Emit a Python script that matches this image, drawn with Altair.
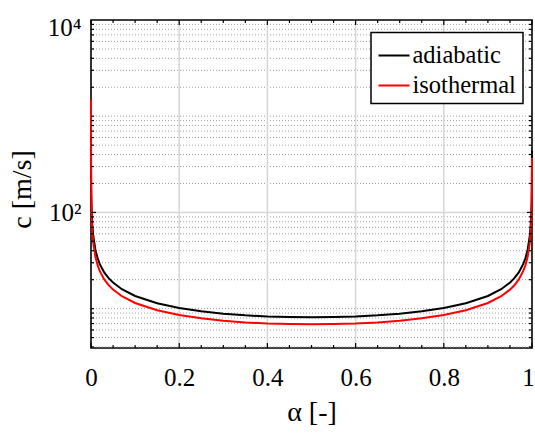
import altair as alt
import pandas as pd

# ---- data ----
alpha = [0, 0.0001, 0.0003, 0.0005, 0.001, 0.002, 0.003, 0.005, 0.01, 0.015,
         0.02, 0.03, 0.04, 0.05, 0.07, 0.1, 0.15, 0.2, 0.25, 0.3,
         0.35, 0.4, 0.45, 0.5, 0.55, 0.6, 0.65, 0.7, 0.75, 0.8,
         0.85, 0.9, 0.93, 0.95, 0.96, 0.97, 0.98, 0.985, 0.99, 0.995,
         0.997, 0.998, 0.999, 0.9995, 0.9999, 1]
c_adiabatic = [1500, 392.3, 231.9, 180.5, 128.1, 90.8, 74.2, 57.6, 40.8, 33.5,
               29.0, 23.8, 20.74, 18.7, 15.93, 13.55, 11.38, 10.16, 9.38, 8.87,
               8.52, 8.29, 8.18, 8.13, 8.18, 8.29, 8.52, 8.87, 9.38, 10.16,
               11.38, 13.55, 15.93, 18.63, 20.72, 23.8, 29.0, 33.4, 40.7, 57.1,
               73.3, 89.1, 123.4, 168, 298, 439]
c_isothermal = [1500, 334.9, 196.6, 152.9, 108.4, 76.8, 62.8, 48.7, 34.5, 28.3,
                24.5, 20.1, 17.53, 15.8, 13.46, 11.45, 9.62, 8.59, 7.93, 7.50,
                7.20, 7.01, 6.91, 6.87, 6.91, 7.01, 7.20, 7.50, 7.93, 8.59,
                9.62, 11.45, 13.46, 15.75, 17.51, 20.1, 24.5, 28.2, 34.4, 48.3,
                61.9, 75.3, 104.3, 142, 252, 371]
series_names = ["adiabatic", "isothermal"]
series_colors = ["#000000", "#ff0000"]

x_major = [0, 0.2, 0.4, 0.6, 0.8, 1]
x_grid = [0.2, 0.4, 0.6, 0.8]
x_minor = [0.05, 0.1, 0.15, 0.25, 0.3, 0.35, 0.45, 0.5, 0.55, 0.65, 0.7,
           0.75, 0.85, 0.9, 0.95]
y_major = [100, 10000]
y_major_labels = ["10²", "10⁴"]
y_grid = [100]
y_minor = [4, 5, 6, 7, 8, 9, 10, 20, 30, 40, 50, 60, 70, 80, 90,
           200, 300, 400, 500, 600, 700, 800, 900, 1000,
           2000, 3000, 4000, 5000, 6000, 7000, 8000, 9000]
y_domain = [3.9, 10000]

# ---- layout ----
W, H = 441, 328
FONT = "Liberation Serif"

n = len(alpha)
df = pd.DataFrame({
    "alpha": alpha + alpha,
    "c": c_adiabatic + c_isothermal,
    "series": [series_names[0]] * n + [series_names[1]] * n,
})

xscale = alt.Scale(domain=[0, 1], nice=False, zero=False)
yscale = alt.Scale(type="log", domain=y_domain, nice=False)

label_expr = " : ".join(
    f"datum.value == {v} ? '{t}'" for v, t in zip(y_major, y_major_labels)
) + " : ''"

x_axis = alt.Axis(values=x_major, format="~g", title="α [-]",
                  labelPadding=17.5, labelFlush=False,
                  labelFont=FONT, titleFont=FONT,
                  labelOffset={"condition": {"test": "datum.value >= 1", "value": -4}, "value": 0},
                  titleX=W / 2, titleY=72, titleAlign="center",
                  titleBaseline="alphabetic")
y_axis = alt.Axis(values=y_major, labelExpr=label_expr, title="c [m/s]",
                  labelPadding=10, labelFlush=False,
                  labelFont=FONT, titleFont=FONT,
                  labelOffset={"condition": {"test": "datum.value > 1000", "value": 7}, "value": 0},
                  titleX=-61, titleY=169, titleAlign="center",
                  titleBaseline="alphabetic", titleAngle=270)


def X(field):
    return alt.X(field, scale=xscale, axis=x_axis)


def Y(field):
    return alt.Y(field, scale=yscale, axis=y_axis)


grid_minor = alt.Chart(pd.DataFrame({"v": y_minor})).mark_rule(
    color="#a0a0a0", strokeWidth=1, strokeDash=[1, 2]
).encode(y=Y("v:Q"))

grid_x = alt.Chart(pd.DataFrame({"v": x_grid})).mark_rule(
    color="#d6d6d6", strokeWidth=1.5
).encode(x=X("v:Q"), y=alt.value(1), y2=alt.value(H - 1))

grid_y = alt.Chart(pd.DataFrame({"v": y_grid})).mark_rule(
    color="#d6d6d6", strokeWidth=1.5
).encode(y=Y("v:Q"), x=alt.value(1), x2=alt.value(W - 1))

lines = alt.Chart(df).mark_line(strokeWidth=2).encode(
    x=X("alpha:Q"),
    y=Y("c:Q"),
    color=alt.Color("series:N",
                    scale=alt.Scale(domain=series_names, range=series_colors),
                    legend=alt.Legend(title=None, orient="none", legendX=280, legendY=12.5,
                                      direction="vertical", symbolType="stroke",
                                      symbolSize=961, symbolStrokeWidth=2,
                                      labelFont=FONT, labelFontSize=24.5, labelColor="black",
                                      labelOffset=2, padding=6.5, rowPadding=2,
                                      strokeColor="black", fillColor="white")),
)


def xticks(values, y0, y1):
    return alt.Chart(pd.DataFrame({"v": values})).mark_rule(
        color="black", strokeWidth=1.2
    ).encode(x=X("v:Q"), y=alt.value(y0), y2=alt.value(y1))


def yticks(values, x0, x1):
    return alt.Chart(pd.DataFrame({"v": values})).mark_rule(
        color="black", strokeWidth=1.2
    ).encode(y=Y("v:Q"), x=alt.value(x0), x2=alt.value(x1))


ticks = [
    xticks(x_major, H, H - 5), xticks(x_major, 0, 5),
    xticks(x_minor, H, H - 3), xticks(x_minor, 0, 3),
    yticks(y_grid, 0, 5), yticks(y_grid, W, W - 5),
    yticks(y_minor, 0, 3), yticks(y_minor, W, W - 3),
]

chart = alt.layer(grid_minor, grid_x, grid_y, lines, *ticks).properties(
    width=W, height=H,
    autosize=alt.AutoSizeParams(type="none"),
    padding={"left": 91, "top": 20, "right": 3, "bottom": 85},
).configure_view(
    stroke="black", strokeWidth=1.6
).configure_axis(
    labelFontSize=25, labelColor="black",
    titleFontSize=28, titleFontWeight="normal", titleColor="black",
    ticks=False, domain=False, grid=False,
).configure_legend(
    strokeWidth=1.5
)

chart.save("out.html", embed_options={"renderer": "svg", "actions": False})
